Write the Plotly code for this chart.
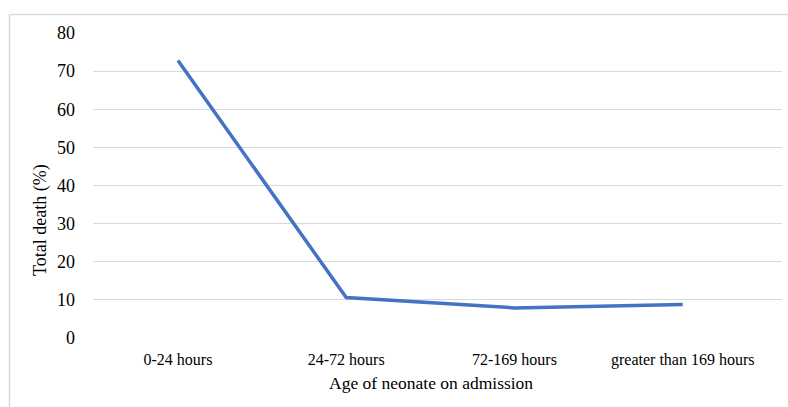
import plotly.graph_objects as go

# Neonatal deaths by age at admission
age_groups = ["0-24 hours", "24-72 hours", "72-169 hours", "greater than 169 hours"]
total_death_pct = [72.8, 10.6, 7.9, 8.8]
y_ticks = [0, 10, 20, 30, 40, 50, 60, 70, 80]

fig = go.Figure()
fig.add_trace(go.Scatter(
    x=list(range(len(age_groups))),
    y=total_death_pct,
    mode="lines",
    line=dict(color="#4472C4", width=3.5),
    showlegend=False,
    hoverinfo="skip",
))

serif = "Liberation Serif, Times New Roman, serif"

fig.update_layout(
    width=788, height=407,
    margin=dict(l=93, r=6, t=33, b=69),
    paper_bgcolor="white",
    plot_bgcolor="white",
    font=dict(family=serif, color="#000000"),
    xaxis=dict(
        range=[-0.505, 3.59],
        tickmode="array",
        tickvals=list(range(len(age_groups))),
        ticktext=age_groups,
        tickfont=dict(size=16, color="#000000"),
        showgrid=False,
        zeroline=False,
        showline=False,
        ticks="",
        ticklabelstandoff=10,
    ),
    yaxis=dict(
        range=[0, 80],
        tickmode="array",
        tickvals=y_ticks,
        tickfont=dict(size=18, color="#000000"),
        showgrid=True,
        gridcolor="#d9d9d9",
        gridwidth=1,
        zeroline=False,
        showline=False,
        ticks="",
        ticklabelstandoff=17,
    ),
    annotations=[
        dict(text="Age of neonate on admission", xref="paper", yref="paper",
             x=0.491, y=-0.148, xanchor="center", yanchor="middle",
             showarrow=False, font=dict(size=17.5, color="#000000")),
        dict(text="Total death (%)", xref="paper", yref="paper",
             x=-0.0755, y=0.387, xanchor="center", yanchor="middle",
             textangle=-90, showarrow=False,
             font=dict(size=18, color="#000000")),
    ],
    shapes=[
        dict(type="line", xref="paper", yref="paper",
             x0=-0.1212, x1=1.02, y0=1.0607, y1=1.0607,
             line=dict(color="#d9d9d9", width=1.5)),
        dict(type="line", xref="paper", yref="paper",
             x0=-0.1212, x1=-0.1212, y0=1.0607, y1=-0.3,
             line=dict(color="#d9d9d9", width=1.5)),
    ],
)

fig.write_html("out.html")
